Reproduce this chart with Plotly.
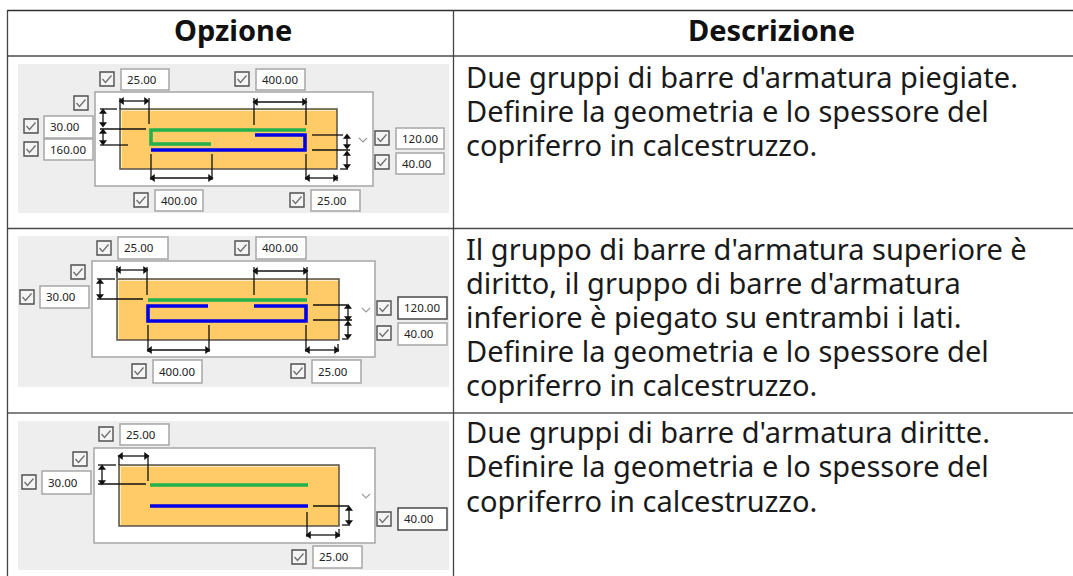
import plotly.graph_objects as go

W, H = 1073, 576
FONT = "Noto Sans"

# ---------- table ----------
header_labels = ["Opzione", "Descrizione"]
header_x = [233, 771]
table_h_lines = [(7, 1073, 10.5, "#2e2e2e"), (7, 1073, 56, "#4a4a4a"), (7, 1073, 228.5, "#4a4a4a"), (7, 1073, 413, "#5a5a5a")]
table_v_lines = [7.5, 453.5]

desc_row1 = ["Due gruppi di barre d'armatura piegiate.", "Definire la geometria e lo spessore del", "copriferro in calcestruzzo."]
desc_row2 = ["Il gruppo di barre d'armatura superiore è", "diritto, il gruppo di barre d'armatura",
             "inferiore è piegato su entrambi i lati.", "Definire la geometria e lo spessore del", "copriferro in calcestruzzo."]
desc_row3 = ["Due gruppi di barre d'armatura diritte.", "Definire la geometria e lo spessore del", "copriferro in calcestruzzo."]
desc_y1 = [76.5, 110.5, 144.5]
desc_y2 = [248.5, 282.5, 316.5, 350.5, 384.5]
desc_y3 = [431.5, 465.5, 500.5]

# ---------- panels ----------
GREY = "#eeeeee"; ORANGE = "#ffcb66"; GREEN = "#22b14c"; BLUE = "#0000e6"

panels = [
    dict(grey=(18, 449, 64, 213), white=(95, 373, 92, 186), orange=(120, 337, 109, 169),
         green=[(306, 130), (151, 130), (151, 144), (211, 144)],
         blue=[(255, 135), (305, 135), (305, 150), (151, 150)],
         lines=[(120, 120, 98, 109), (149, 149, 98, 124), (254, 254, 98, 125), (306, 306, 98, 125),
                (100, 117, 109, 109), (100, 146, 129, 129), (100, 128, 145, 145),
                (312, 343, 135, 135), (312, 350, 150, 150), (340, 348, 169, 169),
                (151, 151, 154, 180), (212, 212, 154, 180), (306, 306, 154, 180), (337, 337, 175, 181)],
         h_arrows=[(120, 148, 101), (254, 306, 102), (151, 212, 178), (306, 337, 178)],
         v_arrows=[(103, 110, 126), (103, 130, 144), (347, 135, 148), (347, 152, 168)],
         chevron=(363, 140)),
    dict(grey=(18, 449, 236, 387), white=(92, 375, 261, 357), orange=(117, 339, 279, 340),
         green=[(148, 300), (307, 300)],
         blue=[(208, 306), (148, 306), (148, 321), (306, 321), (306, 306), (254, 306)],
         lines=[(117, 117, 266, 278), (147, 147, 267, 295), (254, 254, 267, 295), (307, 307, 267, 295),
                (97, 115, 279, 279), (97, 143, 299, 299),
                (313, 347, 305, 305), (313, 352, 320, 320), (342, 348, 339, 339),
                (148, 148, 325, 352), (209, 209, 325, 352), (306, 306, 325, 352), (338, 338, 344, 352)],
         h_arrows=[(117, 147, 270), (254, 307, 271), (148, 209, 350), (306, 338, 350)],
         v_arrows=[(100, 280, 298), (348, 305, 320), (348, 322, 338)],
         chevron=(366, 310)),
    dict(grey=(18, 449, 421, 570), white=(94, 375, 448, 543), orange=(119, 339, 465, 526),
         green=[(150, 485), (308, 485)],
         blue=[(150, 506), (308, 506)],
         lines=[(119, 119, 455, 465), (148, 148, 455, 481),
                (98, 116, 465, 465), (98, 146, 484, 484),
                (313, 349, 506, 506), (342, 350, 525, 525),
                (307, 307, 512, 537), (339, 339, 529, 537)],
         h_arrows=[(119, 148, 456), (307, 339, 535)],
         v_arrows=[(102, 466, 484), (349, 507, 524)],
         chevron=(366, 496)),
]

# (label, x0, x1, y0, y1, focused)
field_boxes = [
    ("25.00", 121, 169, 69, 90, 0), ("400.00", 256, 305, 69, 90, 0),
    ("30.00", 44, 93, 116, 138, 0), ("160.00", 44, 93, 139, 160, 0),
    ("120.00", 396, 444, 128, 149, 0), ("40.00", 396, 444, 153, 174, 0),
    ("400.00", 155, 203, 190, 211, 0), ("25.00", 311, 360, 190, 211, 0),
    ("25.00", 118, 168, 237, 259, 0), ("400.00", 256, 306, 237, 259, 0),
    ("30.00", 40, 89, 286, 308, 0), ("120.00", 398, 447, 297, 319, 1),
    ("40.00", 398, 447, 323, 345, 0), ("400.00", 153, 202, 360, 383, 0),
    ("25.00", 312, 361, 360, 383, 0),
    ("25.00", 120, 169, 424, 445, 0), ("30.00", 42, 91, 471, 494, 0),
    ("40.00", 398, 447, 508, 530, 1), ("25.00", 313, 362, 546, 568, 0),
]
checkbox_x = [107, 242, 81, 31, 31, 382, 382, 141, 297,
              104, 242, 78, 27, 384, 384, 139, 298,
              106, 80, 29, 384, 299]
checkbox_y = [79, 79, 103, 126, 149, 138, 162, 200, 200,
              248, 248, 272, 297, 308, 333, 371, 371,
              434, 459, 482, 519, 557]

fig = go.Figure()
shapes = []
annots = []


def rect(box, fill, line_color=None, width=0):
    x0, x1, y0, y1 = box
    shapes.append(dict(type="rect", xref="x", yref="y", x0=x0, x1=x1, y0=y0, y1=y1,
                       fillcolor=fill, layer="below",
                       line=dict(color=line_color or fill, width=width)))


def polyline(xs, ys, color, width):
    fig.add_trace(go.Scatter(x=xs, y=ys, mode="lines", hoverinfo="skip", showlegend=False,
                             line=dict(color=color, width=width, simplify=False)))


def text(x, y, s, size, anchor="left", bold=False, color="#1a1a1a"):
    annots.append(dict(x=x, y=y, xref="x", yref="y", text=f"<b>{s}</b>" if bold else s,
                       showarrow=False, xanchor=anchor, yanchor="middle", align="left",
                       borderpad=0, font=dict(family=FONT, size=size, color=color)))


# panels
for p in panels:
    rect(p["grey"], GREY)
    rect(p["white"], "white", "#a6a6a6", 1.5)
    rect(p["orange"], ORANGE, "#57534a", 1.5)
    ox0, ox1, oy0, oy1 = p["orange"]
    polyline([ox0 + 1.5, ox0 + 1.5, ox1 - 1], [oy1 - 1, oy0 + 1.5, oy0 + 1.5], "#ffeec8", 1)
    for x0, x1, y0, y1 in p["lines"]:
        polyline([x0, x1], [y0, y1], "#111111", 1.3)
    for g, c in ((p["green"], GREEN), (p["blue"], BLUE)):
        polyline([a for a, _ in g], [b for _, b in g], c, 3.6)
    hx, hy, hs = [], [], []
    for x0, x1, y in p["h_arrows"]:
        polyline([x0, x1], [y, y], "#111111", 1.3)
        hx += [x0 + 2, x1 - 2]; hy += [y, y]; hs += ["triangle-left", "triangle-right"]
    for x, y0, y1 in p["v_arrows"]:
        polyline([x, x], [y0, y1], "#111111", 1.3)
        hx += [x, x]; hy += [y0 + 2, y1 - 2]; hs += ["triangle-up", "triangle-down"]
    fig.add_trace(go.Scatter(x=hx, y=hy, mode="markers", hoverinfo="skip", showlegend=False,
                             marker=dict(symbol=hs, size=7, color="#111111", line=dict(width=0))))
    cx, cy = p["chevron"]
    polyline([cx - 4, cx, cx + 4], [cy - 2, cy + 2, cy - 2], "#9a9a9a", 1.1)

# input fields
for label, x0, x1, y0, y1, focused in field_boxes:
    rect((x0, x1, y0, y1), "white", "#4a4a4a" if focused else "#a6a6a6", 1.5)
    text(x0 + 5, (y0 + y1) / 2 - 0.5, label, 11.5, color="#222222")

# checkboxes
for cx, cy in zip(checkbox_x, checkbox_y):
    rect((cx - 7, cx + 7, cy - 7, cy + 7), "#f4f4f4", "#4f4f4f", 1.4)
    polyline([cx - 4.5, cx - 1.5, cx + 4.5], [cy, cy + 3.5, cy - 3.5], "#6e6e6e", 1.3)

# table lines
for x0, x1, y, c in table_h_lines:
    polyline([x0, x1], [y, y], c, 1.3)
for x in table_v_lines:
    polyline([x, x], [10, H], "#444444", 1.3)

# text
for x, s in zip(header_x, header_labels):
    text(x, 29, s, 29, anchor="center", bold=True, color="#111111")
for rows, ys in ((desc_row1, desc_y1), (desc_row2, desc_y2), (desc_row3, desc_y3)):
    for s, y in zip(rows, ys):
        text(464.5, y, s, 29)

fig.update_layout(
    width=W, height=H, autosize=False,
    margin=dict(l=0, r=0, t=0, b=0),
    paper_bgcolor="white", plot_bgcolor="white",
    showlegend=False, shapes=shapes, annotations=annots,
    xaxis=dict(range=[0, W], visible=False, fixedrange=True),
    yaxis=dict(range=[H, 0], visible=False, fixedrange=True),
)
fig.write_html("out.html", config=dict(displayModeBar=False),
               post_script="document.body.style.margin='0';document.body.style.overflow='hidden';")
